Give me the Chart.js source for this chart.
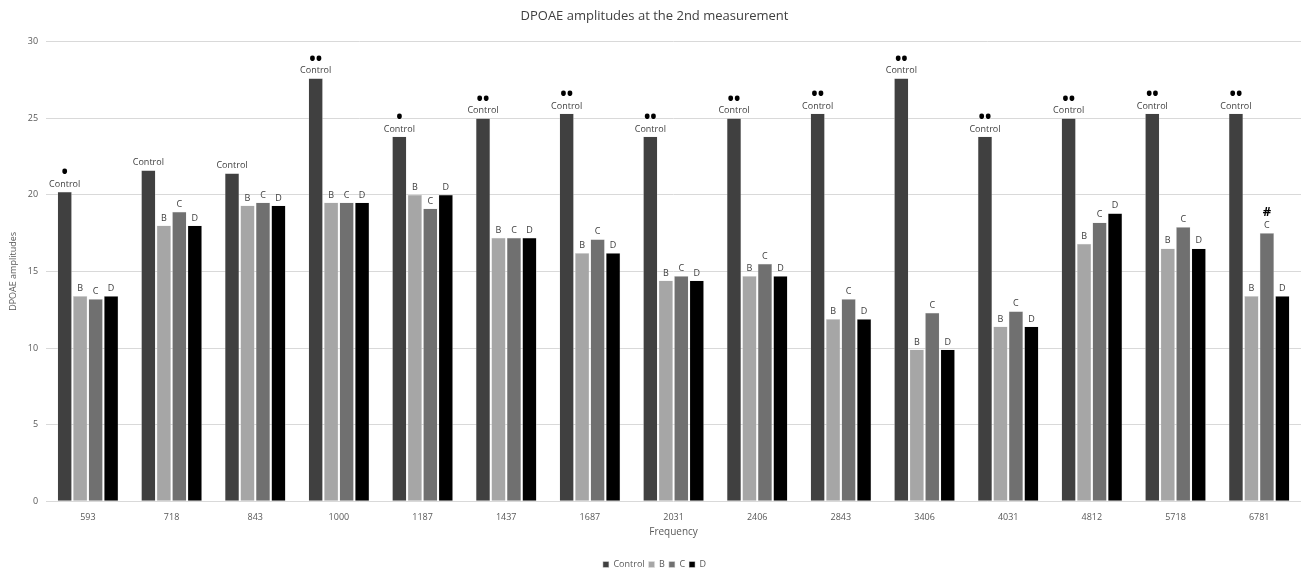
<!DOCTYPE html>
<html>
<head>
<meta charset="utf-8">
<script src="https://cdn.jsdelivr.net/npm/chart.js@4"></script>
<style>
  html, body { margin: 0; padding: 0; background: #fff; }
  #wrap { width: 1312px; height: 569px; position: relative; }
</style>
</head>
<body>
<div id="wrap"><canvas id="chart"></canvas></div>
<script>
// Data
const frequencies = ['593', '718', '843', '1000', '1187', '1437', '1687', '2031', '2406', '2843', '3406', '4031', '4812', '5718', '6781'];
const controlValues = [20.2, 21.6, 21.4, 27.6, 23.8, 25.0, 25.3, 23.8, 25.0, 25.3, 27.6, 23.8, 25.0, 25.3, 25.3];
const bValues = [13.4, 18.0, 19.3, 19.5, 20.0, 17.2, 16.2, 14.4, 14.7, 11.9, 9.9, 11.4, 16.8, 16.5, 13.4];
const cValues = [13.2, 18.9, 19.5, 19.5, 19.1, 17.2, 17.1, 14.7, 15.5, 13.2, 12.3, 12.4, 18.2, 17.9, 17.5];
const dValues = [13.4, 18.0, 19.3, 19.5, 20.0, 17.2, 16.2, 14.4, 14.7, 11.9, 9.9, 11.4, 18.8, 16.5, 13.4];
// significance marks drawn above the labels
const controlMarks = ['•', '', '', '••', '•', '••', '••', '••', '••', '••', '••', '••', '••', '••', '••'];
const cMarks = ['', '', '', '', '', '', '', '', '', '', '', '', '', '', '#'];

const fontFamily = "'Open Sans', 'Noto Sans', sans-serif";

// Draws the letter labels and marks over each bar
const barLabels = {
  id: 'barLabels',
  afterDatasetsDraw(chart) {
    const ctx = chart.ctx;
    ctx.save();
    ctx.textAlign = 'center';
    ctx.textBaseline = 'bottom';
    chart.data.datasets.forEach((ds, di) => {
      const meta = chart.getDatasetMeta(di);
      meta.data.forEach((bar, i) => {
        ctx.fillStyle = '#404040';
        ctx.font = '9px ' + fontFamily;
        ctx.fillText(ds.label, bar.x, bar.y - 3);
        let mark = '';
        if (di === 0) mark = controlMarks[i];
        if (di === 2) mark = cMarks[i];
        if (mark) {
          ctx.fillStyle = '#000';
          ctx.font = (mark === '#' ? 'bold 13px ' : 'bold 17px ') + fontFamily;
          ctx.fillText(mark, bar.x, bar.y - (mark === '#' ? 14 : 10));
        }
      });
    });
    ctx.restore();
  }
};

const makeSet = (label, data, color) => ({
  label,
  data,
  backgroundColor: color,
  borderColor: '#e0e0e0',
  borderWidth: 0.5,
  categoryPercentage: 0.74,
  barPercentage: 0.93
});

new Chart(document.getElementById('chart'), {
  type: 'bar',
  data: {
    labels: frequencies,
    datasets: [
      makeSet('Control', controlValues, '#404040'),
      makeSet('B', bValues, '#a6a6a6'),
      makeSet('C', cValues, '#707070'),
      makeSet('D', dValues, '#000000')
    ]
  },
  options: {
    responsive: true,
    maintainAspectRatio: false,
    animation: false,
    layout: { padding: { left: 8, right: 11, top: 4, bottom: -10 } },
    plugins: {
      title: {
        display: true,
        text: 'DPOAE amplitudes at the 2nd measurement',
        color: '#404040',
        font: { family: fontFamily, size: 13, weight: 'normal' },
        padding: { top: 4, bottom: 18 }
      },
      legend: {
        position: 'bottom',
        labels: {
          boxWidth: 6,
          boxHeight: 6,
          padding: 4,
          color: '#595959',
          font: { family: fontFamily, size: 9 }
        }
      },
      tooltip: { enabled: false }
    },
    scales: {
      x: {
        grid: { display: false },
        border: { display: false },
        ticks: { color: '#595959', font: { family: fontFamily, size: 9 }, padding: 3 },
        title: {
          display: true,
          text: 'Frequency',
          color: '#595959',
          font: { family: fontFamily, size: 10 },
          padding: { top: 0, bottom: 18 }
        }
      },
      y: {
        min: 0,
        max: 30,
        ticks: { stepSize: 5, color: '#595959', font: { family: fontFamily, size: 9 }, padding: 8 },
        grid: { color: '#d9d9d9', drawTicks: false },
        border: { display: false },
        title: {
          display: true,
          text: 'DPOAE amplitudes',
          color: '#595959',
          font: { family: fontFamily, size: 9 },
          padding: { top: 0, bottom: 1 }
        }
      }
    }
  },
  plugins: [barLabels]
});
</script>
</body>
</html>
